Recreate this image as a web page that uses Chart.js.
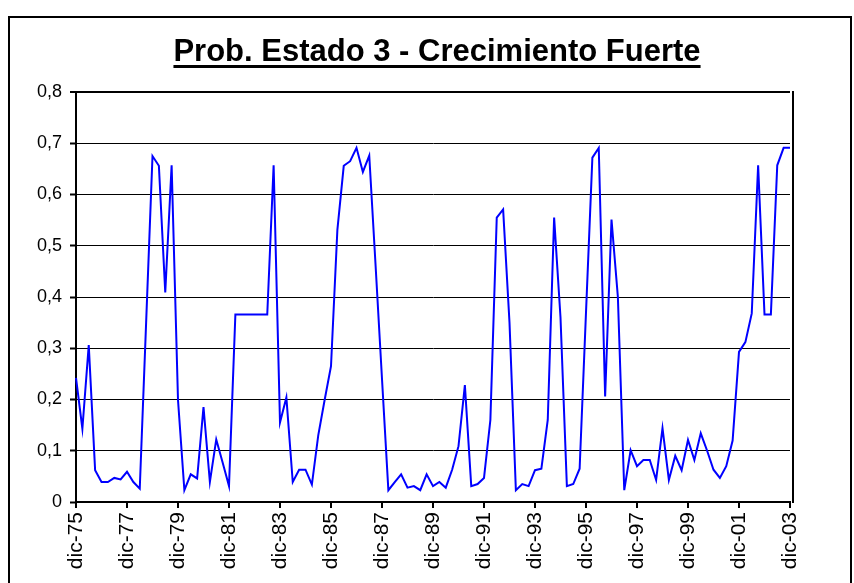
<!DOCTYPE html>
<html>
<head>
<meta charset="utf-8">
<script src="https://cdn.jsdelivr.net/npm/chart.js@4.4.1/dist/chart.umd.min.js"></script>
<style>
  html, body { margin: 0; padding: 0; background: #fff; }
  canvas { display: block; }
</style>
</head>
<body>
<canvas id="probChart" width="854" height="583"></canvas>
<script>
// quarterly categories, dic-75 .. dic-03
const quarterMonths = ['mar', 'jun', 'sep', 'dic'];
const categories = ['dic-75'];
for (let y = 76; y <= 103; y++) {
    const yy = String(y % 100).padStart(2, '0');
    quarterMonths.forEach(m => categories.push(m + '-' + yy));
}

// labels shown on the x axis (every 2 years)
const tickLabels = ['dic-75', 'dic-77', 'dic-79', 'dic-81', 'dic-83', 'dic-85', 'dic-87', 'dic-89',
    'dic-91', 'dic-93', 'dic-95', 'dic-97', 'dic-99', 'dic-01', 'dic-03'];

// probability of state 3
const probEstado3 = [
    0.242, 0.143, 0.306, 0.062, 0.039, 0.039, 0.047, 0.044, 0.059, 0.039,
    0.026, 0.35, 0.675, 0.656, 0.409, 0.657, 0.199, 0.023, 0.054, 0.046,
    0.185, 0.039, 0.122, 0.077, 0.031, 0.366, 0.366, 0.366, 0.366, 0.366,
    0.366, 0.657, 0.155, 0.204, 0.039, 0.063, 0.063, 0.034, 0.130, 0.199,
    0.265, 0.531, 0.656, 0.665, 0.691, 0.644, 0.676, 0.46, 0.24, 0.023,
    0.039, 0.054, 0.028, 0.031, 0.023, 0.054, 0.031, 0.039, 0.028, 0.063,
    0.109, 0.228, 0.031, 0.035, 0.047, 0.160, 0.555, 0.571, 0.35, 0.023,
    0.035, 0.031, 0.062, 0.065, 0.160, 0.555, 0.36, 0.031, 0.035, 0.065,
    0.37, 0.672, 0.691, 0.206, 0.551, 0.40, 0.023, 0.101, 0.070, 0.082,
    0.082, 0.043, 0.144, 0.043, 0.090, 0.062, 0.121, 0.082, 0.134, 0.10,
    0.063, 0.047, 0.070, 0.120, 0.293, 0.312, 0.368, 0.657, 0.366, 0.366,
    0.657, 0.691, 0.691
];

const chartTitle = 'Prob. Estado 3 - Crecimiento Fuerte';

Chart.defaults.font.family = '"Liberation Sans", Arial, sans-serif';
Chart.defaults.color = '#000';

// outer frame, plot frame and underlined title
const decorPlugin = {
    id: 'decor',
    beforeDraw(chart) {
        const ctx = chart.ctx;
        ctx.save();
        ctx.fillStyle = '#fff';
        ctx.fillRect(0, 0, chart.width, chart.height);
        ctx.strokeStyle = '#000';
        ctx.lineWidth = 2;
        ctx.strokeRect(9, 17, 842, 620);
        ctx.restore();
    },
    afterDraw(chart) {
        const ctx = chart.ctx;
        const area = chart.chartArea;
        ctx.save();
        // title
        ctx.font = 'bold 31px "Liberation Sans", Arial, sans-serif';
        ctx.fillStyle = '#000';
        ctx.textAlign = 'center';
        ctx.textBaseline = 'alphabetic';
        const cx = 437;
        ctx.fillText(chartTitle, cx, 61);
        const w = ctx.measureText(chartTitle).width;
        ctx.fillRect(cx - w / 2, 65, w, 3);
        // right side of plot frame
        ctx.strokeStyle = '#000';
        ctx.lineWidth = 2;
        ctx.beginPath();
        ctx.moveTo(area.right + 3, area.top - 1);
        ctx.lineTo(area.right + 3, area.bottom + 1);
        ctx.stroke();
        ctx.restore();
    }
};

new Chart(document.getElementById('probChart').getContext('2d'), {
    type: 'line',
    data: {
        labels: categories,
        datasets: [{
            label: 'Prob. Estado 3',
            data: probEstado3,
            borderColor: '#0000ff',
            borderWidth: 2,
            pointRadius: 0,
            tension: 0,
            fill: false
        }]
    },
    options: {
        responsive: false,
        animation: false,
        layout: { padding: { left: 0, top: 92, right: 64, bottom: 0 } },
        plugins: {
            legend: { display: false },
            title: { display: false },
            tooltip: { enabled: false }
        },
        scales: {
            x: {
                type: 'category',
                offset: false,
                afterFit: s => { s.height = 81; },
                border: { display: true, color: '#000', width: 2 },
                grid: {
                    drawOnChartArea: false,
                    drawTicks: true,
                    tickLength: 6,
                    lineWidth: 2,
                    color: ctx => (ctx.index % 8 === 0 ? '#000' : 'rgba(0,0,0,0)')
                },
                ticks: {
                    autoSkip: false,
                    minRotation: 90,
                    maxRotation: 90,
                    padding: 4,
                    font: { size: 21 },
                    callback: (val, idx) => (idx % 8 === 0 ? tickLabels[idx / 8] : '')
                }
            },
            y: {
                min: 0,
                max: 0.8,
                afterFit: s => { s.width = 76; },
                border: { display: true, color: '#000', width: 2 },
                grid: {
                    color: '#000',
                    lineWidth: ctx => (ctx.tick && Math.abs(ctx.tick.value - 0.8) < 1e-6 ? 2 : 1),
                    tickLength: 6,
                    tickWidth: 2
                },
                ticks: {
                    stepSize: 0.1,
                    padding: 8,
                    font: { size: 18 },
                    callback: v => (v === 0 ? '0' : v.toFixed(1).replace('.', ','))
                }
            }
        }
    },
    plugins: [decorPlugin]
});
</script>
</body>
</html>
